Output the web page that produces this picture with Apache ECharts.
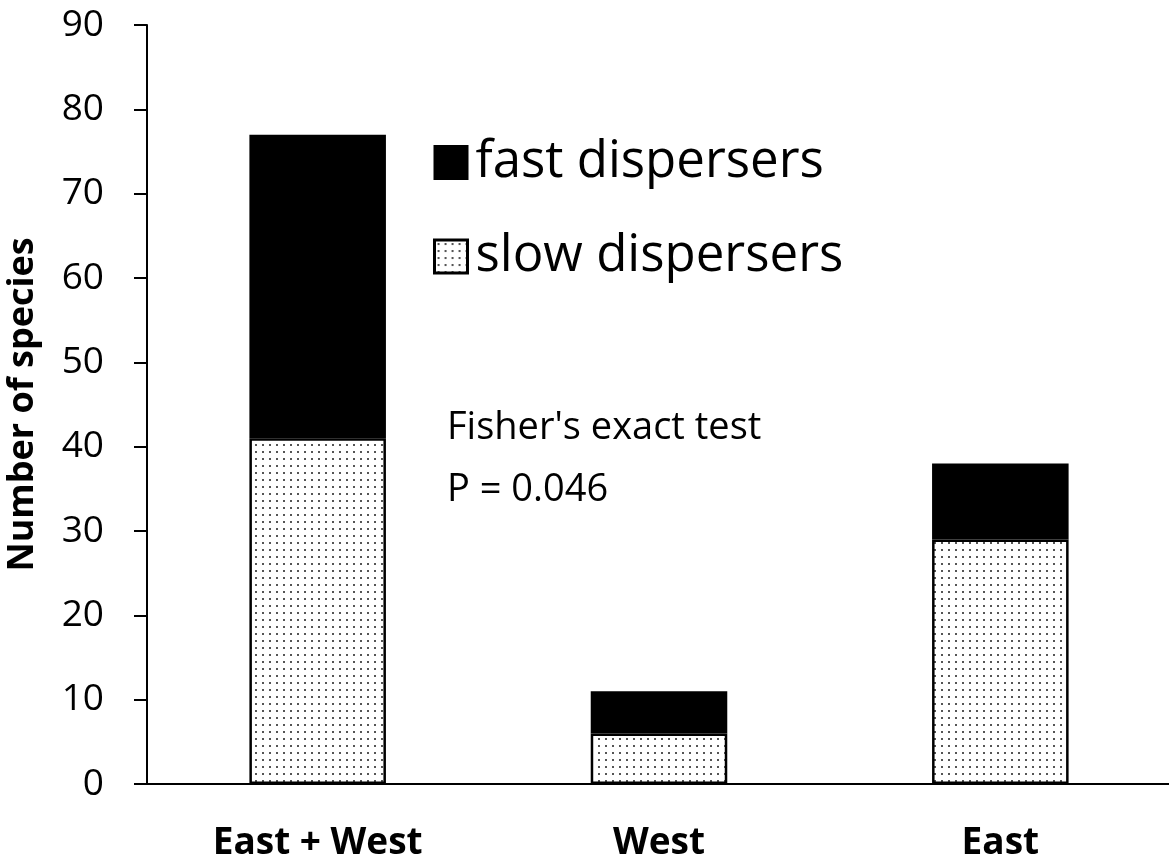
<!DOCTYPE html>
<html>
<head>
<meta charset="utf-8">
<script src="https://cdn.jsdelivr.net/npm/echarts@6/dist/echarts.min.js"></script>
<style>
html,body{margin:0;padding:0;background:#fff;}
#chart{width:1169px;height:865px;}
</style>
</head>
<body>
<div id="chart"></div>
<script>
const categories = ['East + West', 'West', 'East'];
const slowDispersers = [41, 6, 29];
const fastDispersers = [36, 5, 9];
const yTicks = [0, 10, 20, 30, 40, 50, 60, 70, 80, 90];

// dotted fill pattern
const pat = document.createElement('canvas');
pat.width = 7; pat.height = 7;
const pctx = pat.getContext('2d');
pctx.fillStyle = '#fff';
pctx.fillRect(0, 0, 7, 7);
pctx.fillStyle = '#555';
pctx.fillRect(3, 3, 2, 2);

const FONT = 'Open Sans';
const chart = echarts.init(document.getElementById('chart'));
chart.setOption({
  backgroundColor: '#fff',
  animation: false,
  grid: { left: 147, top: 25, bottom: 81, width: 1024, containLabel: false, outerBoundsMode: 'none' },
  legend: {
    orient: 'vertical',
    left: 428,
    top: 132,
    itemWidth: 33,
    itemHeight: 33,
    itemGap: 43,
    icon: 'rect',
    data: [
      { name: 'fast dispersers' },
      { name: 'slow dispersers', itemStyle: { borderColor: '#000', borderWidth: 3 } }
    ],
    textStyle: { fontFamily: FONT, fontSize: 51, color: '#000', lineHeight: 51, padding: [0, 0, 0, 3] }
  },
  xAxis: {
    type: 'category',
    data: categories,
    axisLine: { lineStyle: { color: '#000', width: 2 } },
    axisTick: { show: false },
    axisLabel: { fontFamily: FONT, fontWeight: 'bold', fontSize: 37, color: '#000', margin: 41 }
  },
  yAxis: {
    type: 'value',
    min: 0, max: 90, interval: 10,
    name: 'Number of species',
    nameLocation: 'middle',
    nameGap: 106,
    nameTextStyle: { fontFamily: FONT, fontWeight: 'bold', fontSize: 36, color: '#000' },
    axisLine: { show: true, lineStyle: { color: '#000', width: 2 } },
    axisTick: { show: true, length: 13, lineStyle: { color: '#000', width: 2 } },
    splitLine: { show: false },
    axisLabel: {
      fontFamily: FONT, fontSize: 37, color: '#000', margin: 43,
      formatter: v => yTicks.includes(v) ? String(v) : ''
    }
  },
  series: [
    {
      name: 'slow dispersers', type: 'bar', stack: 's', barWidth: '40%',
      data: slowDispersers,
      itemStyle: { color: { image: pat, repeat: 'repeat' }, borderColor: '#000', borderWidth: 2.5 }
    },
    {
      name: 'fast dispersers', type: 'bar', stack: 's', barWidth: '40%',
      data: fastDispersers,
      itemStyle: { color: '#000', borderColor: '#000', borderWidth: 2.5 }
    }
  ],
  graphic: [
    { type: 'text', x: 447, y: 428, style: { text: "Fisher's exact test", fontFamily: FONT, fontSize: 38, fill: '#000', verticalAlign: 'middle' } },
    { type: 'text', x: 447, y: 490, style: { text: 'P = 0.046', fontFamily: FONT, fontSize: 38, fill: '#000', verticalAlign: 'middle' } }
  ]
});
</script>
</body>
</html>
